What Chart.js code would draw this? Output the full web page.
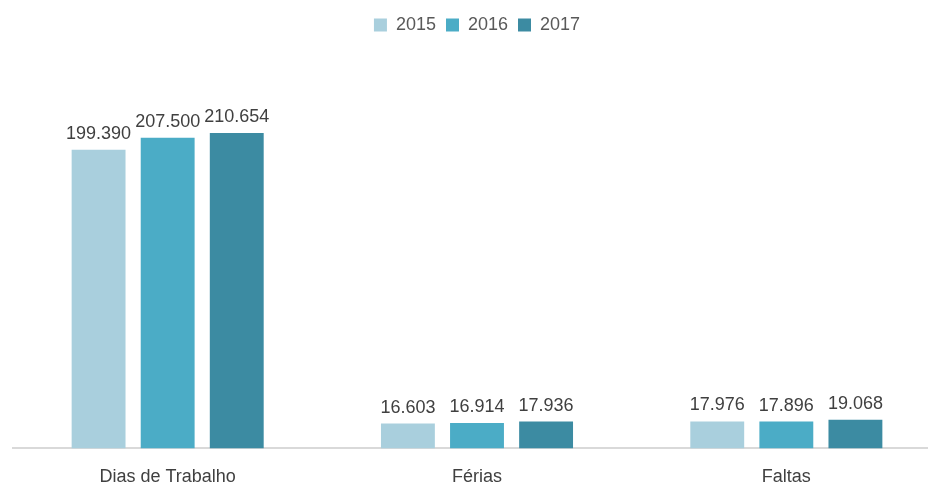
<!DOCTYPE html>
<html>
<head>
<meta charset="utf-8">
<script src="https://cdn.jsdelivr.net/npm/chart.js@4"></script>
<style>
  html, body { margin: 0; padding: 0; background: #fff; overflow: hidden; }
  .wrap { position: relative; width: 941px; height: 498px; }
</style>
</head>
<body>
<div class="wrap"><canvas id="chart"></canvas></div>
<script>
const categories = ['Dias de Trabalho', 'Férias', 'Faltas'];
const years = ['2015', '2016', '2017'];
const values2015 = [199390, 16603, 17976];
const values2016 = [207500, 16914, 17896];
const values2017 = [210654, 17936, 19068];
const colors = ['#A9CFDD', '#4BACC6', '#3C8BA2'];

const FONT = '"Liberation Sans Narrow", "Arial Narrow", "Liberation Sans", sans-serif';

const fmt = (v) => String(v).replace(/\B(?=(\d{3})+(?!\d))/g, '.');

const barLabels = {
  id: 'barLabels',
  afterDatasetsDraw(chart) {
    const { ctx } = chart;
    ctx.save();
    ctx.font = `18px ${FONT}`;
    ctx.fillStyle = '#404040';
    ctx.textAlign = 'center';
    ctx.textBaseline = 'bottom';
    chart.data.datasets.forEach((ds, i) => {
      chart.getDatasetMeta(i).data.forEach((bar, j) => {
        ctx.fillText(fmt(ds.data[j]), bar.x, bar.y - 7);
      });
    });
    ctx.restore();
  }
};

const legendSpace = {
  id: 'legendSpace',
  beforeInit(chart) {
    const fit = chart.legend.fit;
    chart.legend.fit = function () {
      fit.bind(chart.legend)();
      this.height += 30;
    };
  }
};

const series = [values2015, values2016, values2017];

new Chart(document.getElementById('chart').getContext('2d'), {
  type: 'bar',
  data: {
    labels: categories,
    datasets: years.map((y, i) => ({
      label: y,
      data: series[i],
      backgroundColor: colors[i],
      categoryPercentage: 0.67,
      barPercentage: 0.78
    }))
  },
  options: {
    responsive: true,
    maintainAspectRatio: false,
    animation: false,
    layout: { padding: { left: 13, right: 0, top: 6, bottom: 0 } },
    plugins: {
      legend: {
        position: 'top',
        labels: {
          color: '#595959',
          font: { family: FONT, size: 18 },
          boxWidth: 13,
          boxHeight: 13,
          padding: 10
        }
      },
      tooltip: { enabled: false }
    },
    scales: {
      x: {
        grid: { display: false },
        border: { color: '#D9D9D9', width: 2 },
        ticks: { color: '#404040', font: { family: FONT, size: 18 }, padding: 10 }
      },
      y: {
        display: false,
        min: 0,
        max: 250000
      }
    }
  },
  plugins: [barLabels, legendSpace]
});
</script>
</body>
</html>
